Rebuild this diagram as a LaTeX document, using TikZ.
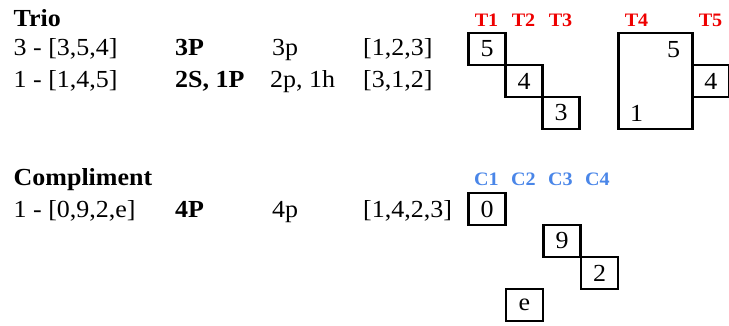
\documentclass[tikz,border=0pt]{standalone}
\usepackage{fontspec}
\setmainfont[FakeStretch=1.06]{Liberation Serif}
\definecolor{tred}{RGB}{238,0,0}
\definecolor{cblue}{RGB}{74,134,232}
\begin{document}
\begin{tikzpicture}[x=1pt,y=-1pt,
  txt/.style={inner sep=0pt,anchor=base west,font=\fontsize{24.5}{28}\selectfont},
  head/.style={txt,font=\fontsize{24.5}{28}\selectfont\bfseries},
  tlabel/.style={inner sep=0pt,anchor=base,text=tred,font=\fontsize{19}{22}\selectfont\bfseries},
  clabel/.style={tlabel,text=cblue},
  cell/.style={draw,line width=2.2pt,minimum width=37pt,minimum height=32pt,inner sep=0pt,
    font=\fontsize{24.5}{28}\selectfont},
  digit/.style={inner sep=0pt,font=\fontsize{24.5}{28}\selectfont}]
\useasboundingbox (0,0) rectangle (729,325);

% Trio block: text table
\node[head] (trio) at (13.5,26.5) {Trio};
\node[txt] (r1a) at (13.5,55) {3 - [3,5,4]};
\node[head] (r1b) at (175,55) {3P};
\node[txt] (r1c) at (272,55) {3p};
\node[txt] (r1d) at (363,55) {[1,2,3]};
\node[txt] (r2a) at (13.5,87) {1 - [1,4,5]};
\node[head] (r2b) at (175,87) {2S, 1P};
\node[txt] (r2c) at (270,87) {2p, 1h};
\node[txt] (r2d) at (363,87) {[3,1,2]};

% Trio column labels
\node[tlabel] (lt1) at (486.5,26) {T1};
\node[tlabel] (lt2) at (523.5,26) {T2};
\node[tlabel] (lt3) at (560.5,26) {T3};
\node[tlabel] (lt4) at (636.5,26) {T4};
\node[tlabel] (lt5) at (710.5,26) {T5};

% Trio staircase cells
\node[cell] (t1) at (487,49) {5};
\node[cell] (t2) at (524,81) {4};
\node[cell] (t3) at (561,113) {3};

% T4 tall box with its two entries, and T5 cell
\node[draw,line width=2.2pt,minimum width=74pt,minimum height=96pt,inner sep=0pt] (t4) at (655.5,81) {};
\node[digit] (t4a) at (673.5,49.5) {5};
\node[digit] (t4b) at (636.5,113) {1};
\node[cell] (t5) at (710.8,81) {4};

% Compliment block: text table
\node[head] (comp) at (13.5,185) {Compliment};
\node[txt] (c1a) at (13.5,217) {1 - [0,9,2,e]};
\node[head] (c1b) at (175,217) {4P};
\node[txt] (c1c) at (272,217) {4p};
\node[txt] (c1d) at (363,217) {[1,4,2,3]};

% Compliment column labels
\node[clabel] (lc1) at (486.5,185) {C1};
\node[clabel] (lc2) at (523.5,185) {C2};
\node[clabel] (lc3) at (560.5,185) {C3};
\node[clabel] (lc4) at (597.5,185) {C4};

% Compliment cells
\node[cell] (k0) at (487,209) {0};
\node[cell] (k9) at (562,241) {9};
\node[cell] (k2) at (599.5,273) {2};
\node[cell] (ke) at (524.5,305) {e};
\end{tikzpicture}
\end{document}
